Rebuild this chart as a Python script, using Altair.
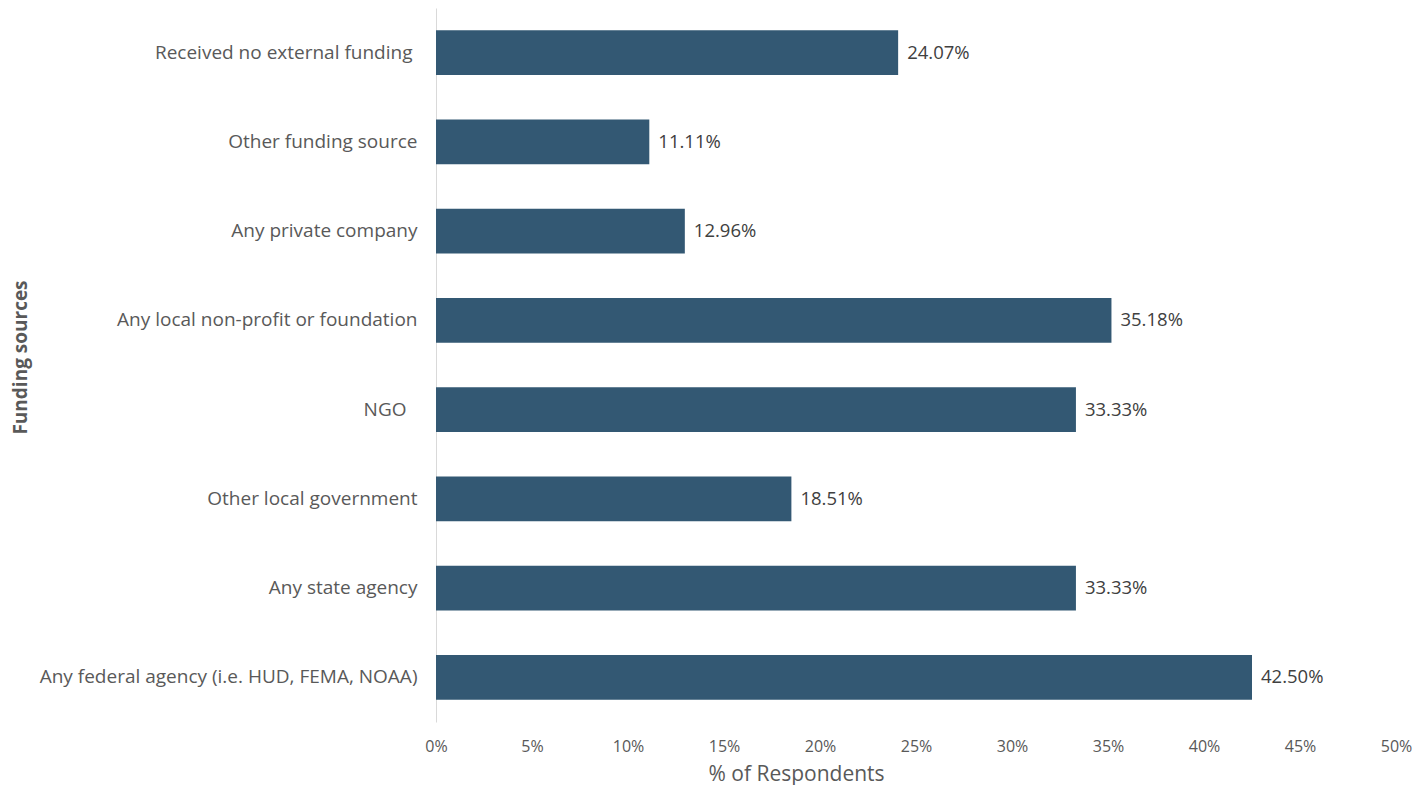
import altair as alt
import pandas as pd

categories = [
    "Received no external funding",
    "Other funding source",
    "Any private company",
    "Any local non-profit or foundation",
    "NGO",
    "Other local government",
    "Any state agency",
    "Any federal agency (i.e. HUD, FEMA, NOAA)",
]
values = [0.2407, 0.1111, 0.1296, 0.3518, 0.3333, 0.1851, 0.3333, 0.4250]
labels = ["24.07%", "11.11%", "12.96%", "35.18%", "33.33%", "18.51%", "33.33%", "42.50%"]
x_ticks = [0, 0.05, 0.10, 0.15, 0.20, 0.25, 0.30, 0.35, 0.40, 0.45, 0.50]

df = pd.DataFrame({"cat": categories, "val": values, "lab": labels})

FONT = "Open Sans"
GRAY = "#595959"

label_pad = {
    "condition": [
        {"test": "datum.value == 'NGO'", "value": 30},
        {"test": "datum.value == 'Received no external funding'", "value": 24},
    ],
    "value": 19,
}

y_enc = alt.Y(
    "cat:N",
    sort=categories,
    scale=alt.Scale(paddingInner=0.5, paddingOuter=0.25),
    axis=alt.Axis(
        title="Funding  sources",
        titleFont=FONT,
        titleFontSize=19,
        titleFontWeight="bold",
        titleColor=GRAY,
        titleAngle=270,
        titleX=-416,
        titleY=349,
        titleAlign="center",
        titleBaseline="middle",
        labelFont=FONT,
        labelFontSize=19,
        labelColor=GRAY,
        labelPadding=label_pad,
        labelLimit=600,
        ticks=False,
        domainColor="#d9d9d9",
        domainWidth=1,
        grid=False,
    ),
)

x_enc = alt.X(
    "val:Q",
    scale=alt.Scale(domain=[0, 0.5], nice=False),
    axis=alt.Axis(
        values=x_ticks,
        format=".0%",
        title="% of Respondents",
        titleFont=FONT,
        titleFontSize=21,
        titleFontWeight="normal",
        titleColor=GRAY,
        titleX=360,
        titleY=52,
        titleAlign="center",
        titleBaseline="middle",
        labelFont=FONT,
        labelFontSize=16,
        labelColor=GRAY,
        labelPadding=16,
        labelFlush=False,
        ticks=False,
        domain=False,
        grid=False,
    ),
)

bars = alt.Chart(df).mark_bar(color="#335873").encode(x=x_enc, y=y_enc)
text = alt.Chart(df).mark_text(
    align="left", baseline="middle", dx=9, font=FONT, fontSize=18.5, color="#404040"
).encode(x="val:Q", y=alt.Y("cat:N", sort=categories), text="lab:N")

chart = (
    alt.layer(bars, text)
    .properties(
        width=960,
        height=714,
        background="white",
        autosize=alt.AutoSizeParams(type="none"),
        padding={"left": 428, "top": 0, "right": 23, "bottom": 63},
    )
    .configure_view(strokeWidth=0, stroke="transparent")
)

chart.save("out.html", embed_options={"renderer": "svg", "actions": False})
